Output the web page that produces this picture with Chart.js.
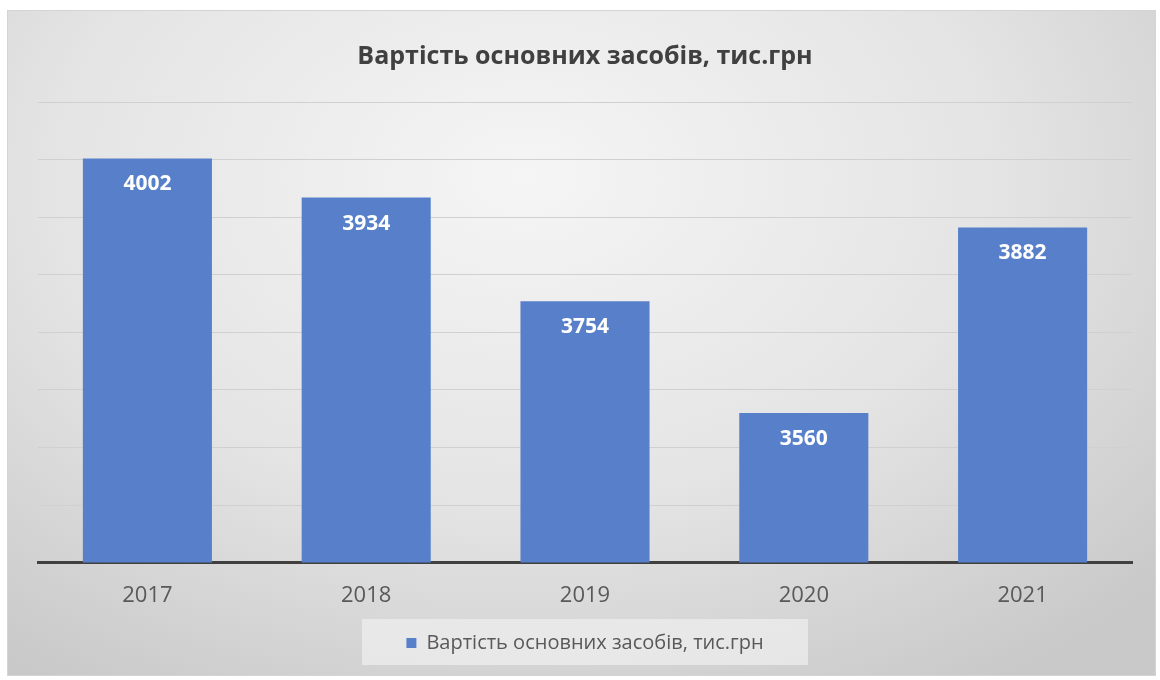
<!DOCTYPE html>
<html>
<head>
<meta charset="utf-8">
<script src="https://cdn.jsdelivr.net/npm/chart.js@4/dist/chart.umd.min.js"></script>
<style>
  body { margin: 0; background: #fff; }
  #frame {
    position: absolute; left: 7px; top: 10px; width: 1149px; height: 666px;
    border: 1px solid #d4d4d4; box-sizing: border-box;
    background: radial-gradient(ellipse 75% 90% at 45% 25%, #f5f5f5 0%, #e4e4e4 55%, #c9c9c9 100%);
  }
  canvas { display: block; }
</style>
</head>
<body>
<div id="frame"><canvas id="chart" width="1147" height="664"></canvas></div>
<script>
const years = ["2017", "2018", "2019", "2020", "2021"];
const values = [4002, 3934, 3754, 3560, 3882];
const seriesName = "Вартість основних засобів, тис.грн";

// підписи значень всередині стовпців
const barLabels = {
    id: "barLabels",
    afterDatasetsDraw(chart) {
        const ctx = chart.ctx;
        const meta = chart.getDatasetMeta(0);
        ctx.save();
        ctx.fillStyle = "#ffffff";
        ctx.font = "bold 21px 'Open Sans'";
        ctx.textAlign = "center";
        ctx.textBaseline = "middle";
        meta.data.forEach(function (bar, i) {
            ctx.fillText(values[i], bar.x, bar.y + 26);
        });
        ctx.restore();
    }
};

// світлий фон під легендою
const legendBg = {
    id: "legendBg",
    beforeDraw(chart) {
        const lg = chart.legend;
        if (!lg) return;
        const ctx = chart.ctx;
        const cx = lg.left + lg.width / 2;
        const cy = lg.top + lg.height / 2;
        ctx.save();
        ctx.fillStyle = "rgba(240,240,240,0.7)";
        ctx.fillRect(cx - 223, cy - 23, 446, 46);
        ctx.restore();
    }
};

new Chart(document.getElementById("chart"), {
    type: "bar",
    data: {
        labels: years,
        datasets: [{
            label: seriesName,
            data: values,
            backgroundColor: "#5880ca",
            categoryPercentage: 1,
            barPercentage: 0.59,
        }],
    },
    options: {
        responsive: false,
        animation: false,
        layout: { padding: { left: 30, right: 23, bottom: 12 } },
        plugins: {
            title: {
                display: true,
                text: seriesName,
                color: "#404040",
                font: { family: "'Open Sans'", size: 25, weight: "bold" },
                padding: { top: 31, bottom: 30 },
            },
            legend: {
                position: "bottom",
                labels: {
                    color: "#595959",
                    font: { family: "'Open Sans'", size: 20 },
                    boxWidth: 10,
                    boxHeight: 10,
                    padding: 12,
                },
            },
            tooltip: { enabled: false },
        },
        scales: {
            x: {
                grid: { display: false },
                border: { color: "#404040", width: 3 },
                ticks: {
                    color: "#595959",
                    font: { family: "'Open Sans'", size: 22 },
                    padding: 12,
                },
            },
            y: {
                min: 3300,
                max: 4100,
                ticks: { stepSize: 100, display: false },
                grid: { color: "#d0d0d0", drawTicks: false },
                border: { display: false },
            },
        },
    },
    plugins: [barLabels, legendBg],
});
</script>
</body>
</html>
